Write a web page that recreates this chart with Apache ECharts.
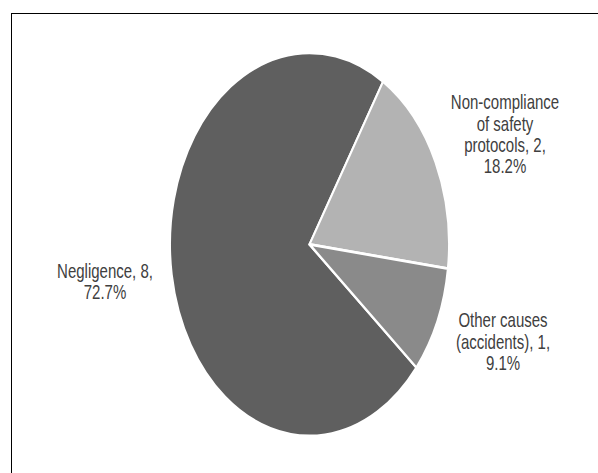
<!DOCTYPE html>
<html>
<head>
<meta charset="utf-8">
<script src="https://cdn.jsdelivr.net/npm/echarts@6/dist/echarts.min.js"></script>
<style>
  html, body { margin: 0; padding: 0; background: #fff; overflow: hidden; }
  #wrap { position: relative; width: 598px; height: 473px; overflow: hidden; }
  #frame {
    position: absolute; left: 11px; top: 13px; width: 620px; height: 480px;
    border-top: 1px solid #000; border-left: 1px solid #000;
  }
  /* the source picture is stretched vertically, so the chart is too */
  #chart {
    position: absolute; left: 0; top: 0; width: 598px; height: 345px;
    transform: scaleY(1.373); transform-origin: 0 0;
  }
</style>
</head>
<body>
<div id="wrap">
  <div id="frame"></div>
  <div id="chart"></div>
</div>
<script>
// data
var causes = ["Negligence", "Non-compliance\nof safety\nprotocols", "Other causes\n(accidents)"];
var counts = [8, 2, 1];
var colors = ["#5f5f5f", "#b3b3b3", "#8a8a8a"];

// label centres (chart px, before the vertical stretch)
var labelPos = [
  [105, 205],
  [505, 98],
  [503, 249],
];

var chart = echarts.init(document.getElementById("chart"), null, { renderer: "svg" });

var option = {
  animation: false,
  color: colors,
  series: [
    {
      type: "pie",
      center: [309.5, 178],
      radius: 139.5,
      startAngle: -40,
      clockwise: true,
      percentPrecision: 1,
      itemStyle: {
        borderColor: "#fff",
        borderWidth: 2,
      },
      label: {
        show: true,
        position: "inside",
        overflow: "none",
        color: "#404040",
        fontFamily: "Liberation Sans, Arial, sans-serif",
        fontSize: 15,
        lineHeight: 15.5,
        align: "center",
        formatter: function (p) {
          return p.name + ", " + p.value + ",\n" + p.percent + "%";
        },
      },
      labelLine: { show: false },
      labelLayout: function (params) {
        var pos = labelPos[params.dataIndex];
        return {
          x: pos[0],
          y: pos[1],
          align: "center",
          verticalAlign: "middle",
        };
      },
      emphasis: { disabled: true },
      data: causes.map(function (name, i) {
        return { name: name, value: counts[i] };
      }),
    },
  ],
};

chart.setOption(option);
</script>
</body>
</html>
